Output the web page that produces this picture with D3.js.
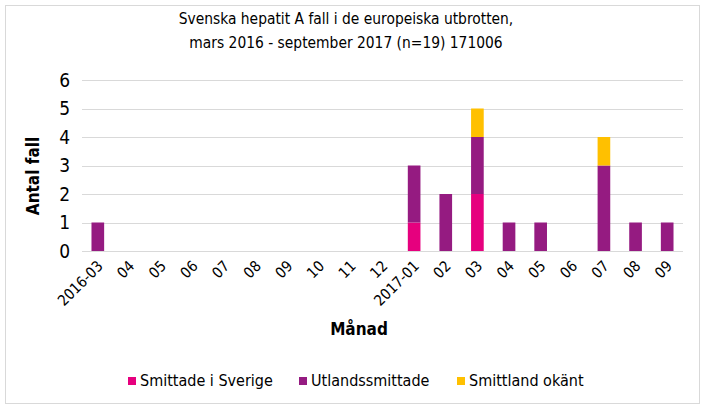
<!DOCTYPE html>
<html><head><meta charset="utf-8">
<script src="https://cdn.jsdelivr.net/npm/d3@7"></script>
<style>body{margin:0;background:#fff}svg{display:block}</style>
</head><body>
<svg id="c" width="707" height="411"></svg>
<script>
const months = ["2016-03","04","05","06","07","08","09","10","11","12","2017-01","02","03","04","05","06","07","08","09"];
const sverige = [0,0,0,0,0,0,0,0,0,0,1,0,2,0,0,0,0,0,0];
const utlands = [1,0,0,0,0,0,0,0,0,0,2,2,2,1,1,0,3,1,1];
const okant   = [0,0,0,0,0,0,0,0,0,0,0,0,1,0,0,0,1,0,0];
const seriesNames = ["Smittade i Sverige","Utlandssmittade","Smittland okänt"];
const colors = ["#E6007E","#951B81","#FFC000"];
const yTicks = [0,1,2,3,4,5,6];

const font = "'DejaVu Sans Condensed','DejaVu Sans',sans-serif";
const svg = d3.select("#c");
svg.append("rect").attr("x",5.5).attr("y",5.5).attr("width",694).attr("height",398)
  .attr("fill","#fff").attr("stroke","#d9d9d9");

const rows = months.map((m,i)=>({m:m+"_"+i, label:m, s0:sverige[i], s1:utlands[i], s2:okant[i]}));
const keys = ["s0","s1","s2"];
const stack = d3.stack().keys(keys)(rows);

const x = d3.scaleBand().domain(rows.map(d=>d.m)).range([82,683]).paddingInner(0.6).paddingOuter(0.3);
const y = d3.scaleLinear().domain([0,6]).range([251,80]);

// grid
svg.append("g").selectAll("line").data(yTicks).join("line")
  .attr("x1",82).attr("x2",683).attr("y1",d=>Math.round(y(d))+0.5).attr("y2",d=>Math.round(y(d))+0.5)
  .attr("stroke","#d9d9d9").attr("stroke-width",1);

// bars
svg.append("g").selectAll("g").data(stack).join("g").attr("fill",(d,i)=>colors[i])
  .selectAll("rect").data(d=>d).join("rect")
  .attr("x",d=>x(d.data.m)).attr("width",x.bandwidth())
  .attr("y",d=>y(d[1])).attr("height",d=>y(d[0])-y(d[1]));

// y axis
const ya = svg.append("g").attr("transform","translate(82,0)")
  .call(d3.axisLeft(y).tickValues(yTicks).tickSize(0).tickPadding(12).tickFormat(d3.format("d")));
ya.select(".domain").remove();
ya.selectAll("text").attr("font-family",font).attr("font-size",19).attr("fill","#000");

// x axis
const xa = svg.append("g").attr("transform","translate(0,251)")
  .call(d3.axisBottom(x).tickSize(0).tickFormat((d,i)=>months[i]));
xa.select(".domain").attr("stroke","#d9d9d9").attr("d","M82,0.5H683");
xa.selectAll("text").attr("font-family",font).attr("font-size",15).attr("fill","#000")
  .attr("text-anchor","end").attr("dy",null).attr("y",0)
  .attr("transform","translate(6,16) rotate(-45)");

// titles
const t = svg.append("text").attr("font-family",font).attr("font-size",15.4).attr("text-anchor","middle").attr("fill","#000");
t.append("tspan").attr("x",346).attr("y",24).text("Svenska hepatit A fall i de europeiska utbrotten,");
t.append("tspan").attr("x",346).attr("y",48).text("mars 2016 - september 2017 (n=19) 171006");

svg.append("text").attr("font-family",font).attr("font-size",17).attr("font-weight","bold")
  .attr("text-anchor","middle").attr("transform","translate(39,176) rotate(-90)").text("Antal fall");
svg.append("text").attr("font-family",font).attr("font-size",17).attr("font-weight","bold")
  .attr("text-anchor","middle").attr("x",359).attr("y",335).text("Månad");

// legend
const lx = [128,299,457];
const lg = svg.append("g").selectAll("g").data(seriesNames).join("g")
  .attr("transform",(d,i)=>`translate(${lx[i]},377)`);
lg.append("rect").attr("width",8).attr("height",8).attr("fill",(d,i)=>colors[i]);
lg.append("text").attr("x",12).attr("y",9).attr("font-family",font).attr("font-size",16).attr("fill","#000").text(d=>d);
</script>
</body></html>
